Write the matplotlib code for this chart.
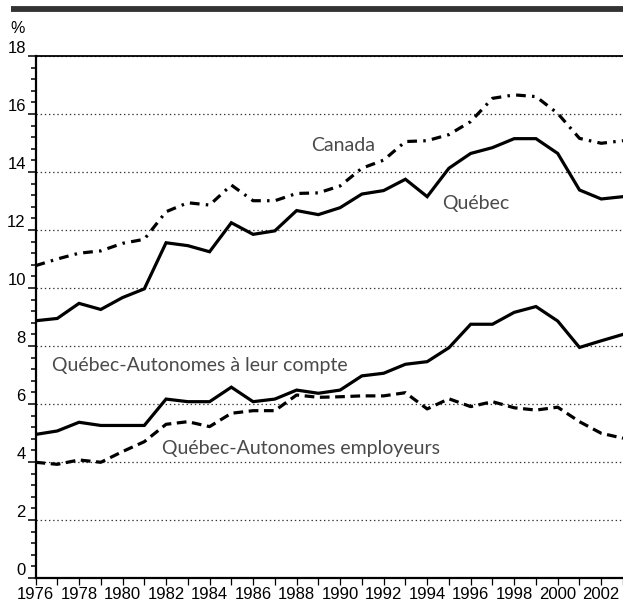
import numpy as np
import matplotlib
matplotlib.use("Agg")
import matplotlib.pyplot as plt
from matplotlib.lines import Line2D
from matplotlib.ticker import MultipleLocator

plt.rcParams['font.family'] = ['Liberation Sans', 'DejaVu Sans']
plt.rcParams['lines.scale_dashes'] = False

# %% data (share of employment, %)
years = list(range(1976, 2004))

canada = [10.77, 11.00, 11.20, 11.28, 11.54, 11.68, 12.63, 12.94, 12.86, 13.55,
          13.01, 13.01, 13.26, 13.28, 13.52, 14.13, 14.41, 15.05, 15.08, 15.29,
          15.74, 16.54, 16.66, 16.60, 16.02, 15.16, 14.99, 15.08]

quebec = [8.87, 8.95, 9.47, 9.26, 9.67, 9.97, 11.56, 11.46, 11.25, 12.25,
          11.85, 11.97, 12.67, 12.53, 12.77, 13.24, 13.36, 13.75, 13.15, 14.13,
          14.64, 14.84, 15.15, 15.15, 14.64, 13.38, 13.07, 13.15]

qc_compte = [4.95, 5.07, 5.37, 5.26, 5.26, 5.26, 6.17, 6.08, 6.08, 6.58,
             6.08, 6.17, 6.48, 6.37, 6.48, 6.97, 7.06, 7.37, 7.46, 7.94,
             8.75, 8.75, 9.16, 9.36, 8.86, 7.95, 8.18, 8.40]

qc_employeurs = [3.99, 3.92, 4.07, 3.99, 4.36, 4.70, 5.30, 5.39, 5.22, 5.68,
                 5.77, 5.77, 6.31, 6.23, 6.25, 6.28, 6.28, 6.39, 5.83, 6.18,
                 5.91, 6.08, 5.87, 5.79, 5.89, 5.39, 4.99, 4.82]

year_ticks = list(range(1976, 2003, 2))
pct_ticks = list(range(0, 19, 2))

# %% figure
fig = plt.figure(figsize=(6.23, 6.02), dpi=100)
ax = fig.add_axes([35.5/623, 24/602, 1 - 35.5/623, (578 - 56)/602])

ink = 'black'
lw = 2.3
ax.plot(years, canada, color=ink, lw=lw, dashes=(7, 4.5, 1.8, 4.5))
ax.plot(years, quebec, color=ink, lw=lw, solid_joinstyle='miter')
ax.plot(years, qc_compte, color=ink, lw=lw, solid_joinstyle='miter')
ax.plot(years, qc_employeurs, color=ink, lw=lw, dashes=(7, 4))

ax.set_xlim(1976, 2003)
ax.set_ylim(0, 18)

ax.set_yticks(pct_ticks)
ax.yaxis.set_minor_locator(MultipleLocator(0.4))
ax.set_xticks(year_ticks)
ax.xaxis.set_minor_locator(MultipleLocator(1))

ax.tick_params(axis='y', which='major', length=5.5, width=1.1, pad=1.5,
               labelsize=12, direction='out')
ax.tick_params(axis='y', which='minor', length=3.5, width=1.1, direction='out')
ax.tick_params(axis='x', which='both', length=5, width=0.9, pad=1.5,
               labelsize=12, direction='out')
for lbl in ax.get_yticklabels():
    lbl.set_va('bottom')

ax.grid(True, axis='y', which='major', linestyle=(0, (1, 2)), linewidth=0.9,
        color='#333333')
ax.set_axisbelow(True)

ax.spines['right'].set_visible(False)
ax.spines['left'].set_linewidth(1.6)
ax.spines['bottom'].set_linewidth(1.6)
ax.spines['top'].set_linewidth(1.3)

# %% series labels
tcol = '#4a4a4a'
tfont = ['Lato', 'DejaVu Sans']
ax.text(1990.13, 14.93, 'Canada', color=tcol, fontsize=14, family=tfont,
        ha='center', va='center')
ax.text(1996.24, 12.9, 'Québec', color=tcol, fontsize=14, family=tfont,
        ha='center', va='center')
ax.text(1976.75, 7.34, 'Québec-Autonomes à leur compte', color=tcol,
        fontsize=14, family=tfont, ha='left', va='center')
ax.text(1981.8, 4.48, 'Québec-Autonomes employeurs', color=tcol,
        fontsize=14, family=tfont, ha='left', va='center')

# %% header bar and unit
fig.add_artist(Line2D([11/623, 1], [1 - 8.5/602, 1 - 8.5/602],
                      transform=fig.transFigure, color='#333333', lw=4.2,
                      solid_capstyle='butt'))
fig.text(10/623, 1 - 33/602, '%', fontsize=11.5, ha='left', va='baseline')

fig.savefig('out.png', dpi=100)
